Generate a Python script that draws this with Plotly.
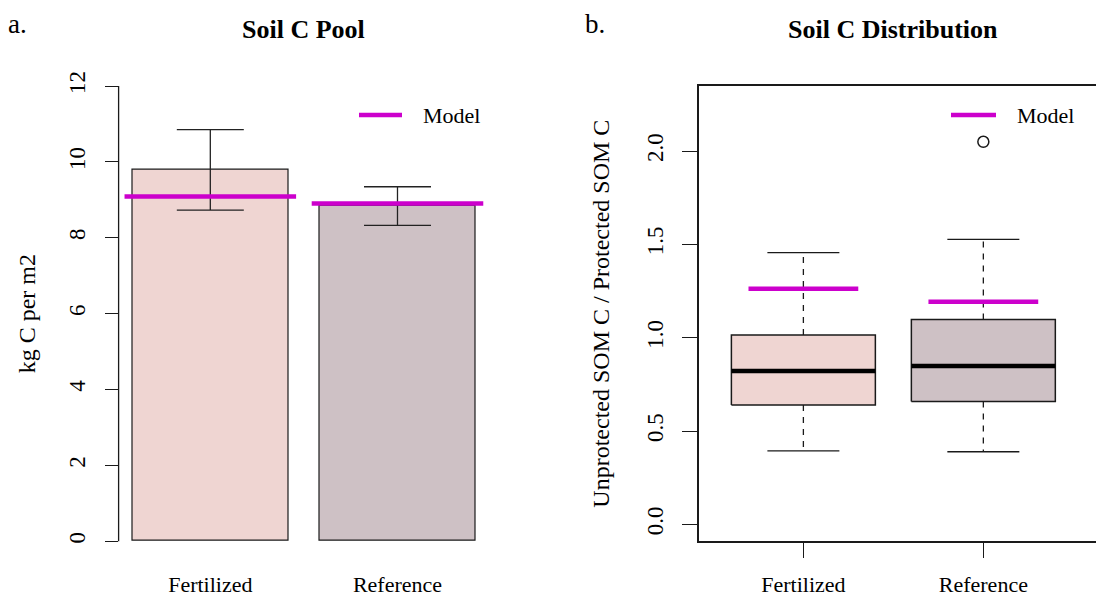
import plotly.graph_objects as go

# ---- data -------------------------------------------------------------
groups = ["Fertilized", "Reference"]

# panel a: soil C pool (kg C per m2)
pool_mean = [9.79, 8.835]
pool_err = [1.06, 0.51]
pool_model = [9.09, 8.90]

# panel b: unprotected / protected SOM C ratio (box statistics)
ratio_lower = [0.394, 0.389]
ratio_q1 = [0.639, 0.658]
ratio_median = [0.822, 0.848]
ratio_q3 = [1.015, 1.097]
ratio_upper = [1.456, 1.527]
ratio_outliers = [[], [2.05]]
ratio_model = [1.263, 1.193]

fills = ["#EFD5D2", "#CEC1C5"]
magenta = "#CC00CC"
ink = "#1a1a1a"
FONT = "Liberation Serif"

W, H = 1096, 599

bar_pos = [0.7, 1.9]   # barplot centres (width 1, space 0.2)
box_pos = [1, 2]

fig = go.Figure()

# ---- panel a: bars with error bars -----------------------------------
fig.add_trace(go.Bar(
    x=bar_pos, y=pool_mean, width=1.0,
    marker=dict(color=fills, line=dict(color=ink, width=1.2)),
    error_y=dict(type="data", array=pool_err, symmetric=True,
                 color="#222222", thickness=1.3, width=33.5),
    showlegend=False, xaxis="x", yaxis="y",
))

mx, my = [], []
for p, v in zip(bar_pos, pool_model):
    mx += [p - 0.55, p + 0.55, None]
    my += [v, v, None]
fig.add_trace(go.Scatter(
    x=mx, y=my, mode="lines", name="Model",
    line=dict(color=magenta, width=4.5),
    xaxis="x", yaxis="y", showlegend=False,
))

# ---- panel b: box plots -----------------------------------------------
half = 0.4
cap = 0.2
for i, p in enumerate(box_pos):
    q1, q3 = ratio_q1[i], ratio_q3[i]
    fig.add_trace(go.Scatter(
        x=[p - half, p + half, p + half, p - half, p - half],
        y=[q1, q1, q3, q3, q1],
        mode="lines", fill="toself", fillcolor=fills[i],
        line=dict(color=ink, width=1.5), showlegend=False,
        hoverinfo="skip", xaxis="x2", yaxis="y2",
    ))
    # whiskers (dashed)
    fig.add_trace(go.Scatter(
        x=[p, p, None, p, p],
        y=[q3, ratio_upper[i], None, q1, ratio_lower[i]],
        mode="lines", line=dict(color=ink, width=1.3, dash="6px,6px"),
        showlegend=False, hoverinfo="skip", xaxis="x2", yaxis="y2",
    ))
    # whisker caps
    fig.add_trace(go.Scatter(
        x=[p - cap, p + cap, None, p - cap, p + cap],
        y=[ratio_upper[i], ratio_upper[i], None, ratio_lower[i], ratio_lower[i]],
        mode="lines", line=dict(color=ink, width=1.3),
        showlegend=False, hoverinfo="skip", xaxis="x2", yaxis="y2",
    ))
    # median
    fig.add_trace(go.Scatter(
        x=[p - half, p + half], y=[ratio_median[i], ratio_median[i]],
        mode="lines", line=dict(color="#000000", width=4.5),
        showlegend=False, hoverinfo="skip", xaxis="x2", yaxis="y2",
    ))
    if ratio_outliers[i]:
        fig.add_trace(go.Scatter(
            x=[p] * len(ratio_outliers[i]), y=ratio_outliers[i],
            mode="markers",
            marker=dict(symbol="circle-open", size=11,
                        color=ink, line=dict(width=1.5)),
            showlegend=False, xaxis="x2", yaxis="y2",
        ))

bx, by = [], []
for p, v in zip(box_pos, ratio_model):
    bx += [p - 0.305, p + 0.305, None]
    by += [v, v, None]
fig.add_trace(go.Scatter(
    x=bx, y=by, mode="lines", name="Model",
    line=dict(color=magenta, width=4.5),
    xaxis="x2", yaxis="y2", showlegend=False,
))

# ---- layout -------------------------------------------------------------
def px_x(v):
    return v / W


def px_y(v):
    return 1 - v / H


tick_font = dict(family=FONT, size=23, color="#000")
lab_font = dict(family=FONT, size=22, color="#000")

fig.update_layout(
    width=W, height=H,
    margin=dict(l=0, r=0, t=0, b=0),
    paper_bgcolor="white", plot_bgcolor="white",
    font=dict(family=FONT, color="#000"),
    showlegend=False,
    xaxis=dict(
        domain=[px_x(118.6), px_x(489.2)], range=[0.112, 2.488],
        tickvals=bar_pos, ticktext=groups, ticks="",
        tickfont=lab_font, showline=False, showgrid=False, zeroline=False,
        ticklabelstandoff=9, anchor="y", fixedrange=True,
    ),
    yaxis=dict(
        domain=[px_y(559.5), px_y(67.8)], range=[-0.48, 12.48],
        tickvals=[0, 2, 4, 6, 8, 10, 12], ticks="outside", ticklen=13,
        tickcolor=ink, tickwidth=1.3, tickangle=-90, tickfont=tick_font,
        ticklabelstandoff=10,
        showline=False, showgrid=False, zeroline=False,
        title=dict(text="kg C per m2", font=dict(family=FONT, size=24),
                   standoff=22),
        anchor="x", fixedrange=True,
    ),
    xaxis2=dict(
        domain=[px_x(699), 1.0], range=[0.42, 2.626],
        tickvals=box_pos, ticktext=groups, ticks="outside", ticklen=15,
        tickcolor=ink, tickwidth=1.3, tickfont=lab_font,
        ticklabelstandoff=8,
        showline=True, linecolor=ink, linewidth=1.5, mirror=True,
        showgrid=False, zeroline=False, anchor="y2", fixedrange=True,
    ),
    yaxis2=dict(
        domain=[px_y(541.3), px_y(86)], range=[-0.091, 2.349],
        tickvals=[0, 0.5, 1.0, 1.5, 2.0], tickformat=".1f",
        ticks="outside", ticklen=15, tickcolor=ink, tickwidth=1.3,
        tickangle=-90, tickfont=tick_font, ticklabelstandoff=10,
        showline=True, linecolor=ink, linewidth=1.5, mirror=False,
        showgrid=False, zeroline=False,
        title=dict(text="Unprotected SOM C / Protected SOM C",
                   font=dict(family=FONT, size=24), standoff=27),
        anchor="x2", fixedrange=True,
    ),
    bargap=0,
)

# y axis line of panel a spans the tick range only
fig.add_shape(type="line", xref="x domain", yref="y",
              x0=0, x1=0, y0=0, y1=12,
              line=dict(color=ink, width=1.3))

# legend keys ("Model") in the top-right of each panel
for lx0, lx1, tx in [(359, 402, 421), (951, 996, 1015)]:
    fig.add_shape(type="line", xref="paper", yref="paper",
                  x0=px_x(lx0), x1=px_x(lx1), y0=px_y(115), y1=px_y(115),
                  line=dict(color=magenta, width=4.5))
    fig.add_annotation(text="Model", x=px_x(tx), y=px_y(115),
                       xref="paper", yref="paper", xanchor="left",
                       yanchor="middle", showarrow=False,
                       font=dict(family=FONT, size=22, color="#000"))

# panel titles and letters
title_font = dict(family=FONT, size=26, color="#000", weight="bold")
fig.add_annotation(text="Soil C Pool", x=(px_x(118.6) + px_x(489.2)) / 2,
                   y=px_y(29), xref="paper", yref="paper",
                   xanchor="center", yanchor="middle",
                   showarrow=False, font=title_font)
fig.add_annotation(text="Soil C Distribution", x=px_x(893), y=px_y(29),
                   xref="paper", yref="paper",
                   xanchor="center", yanchor="middle",
                   showarrow=False, font=title_font)
fig.add_annotation(text="a.", x=px_x(6), y=px_y(24), xref="paper",
                   yref="paper", xanchor="left", yanchor="middle",
                   showarrow=False, font=dict(family=FONT, size=27))
fig.add_annotation(text="b.", x=px_x(583), y=px_y(24), xref="paper",
                   yref="paper", xanchor="left", yanchor="middle",
                   showarrow=False, font=dict(family=FONT, size=27))

fig.write_html("out.html")
